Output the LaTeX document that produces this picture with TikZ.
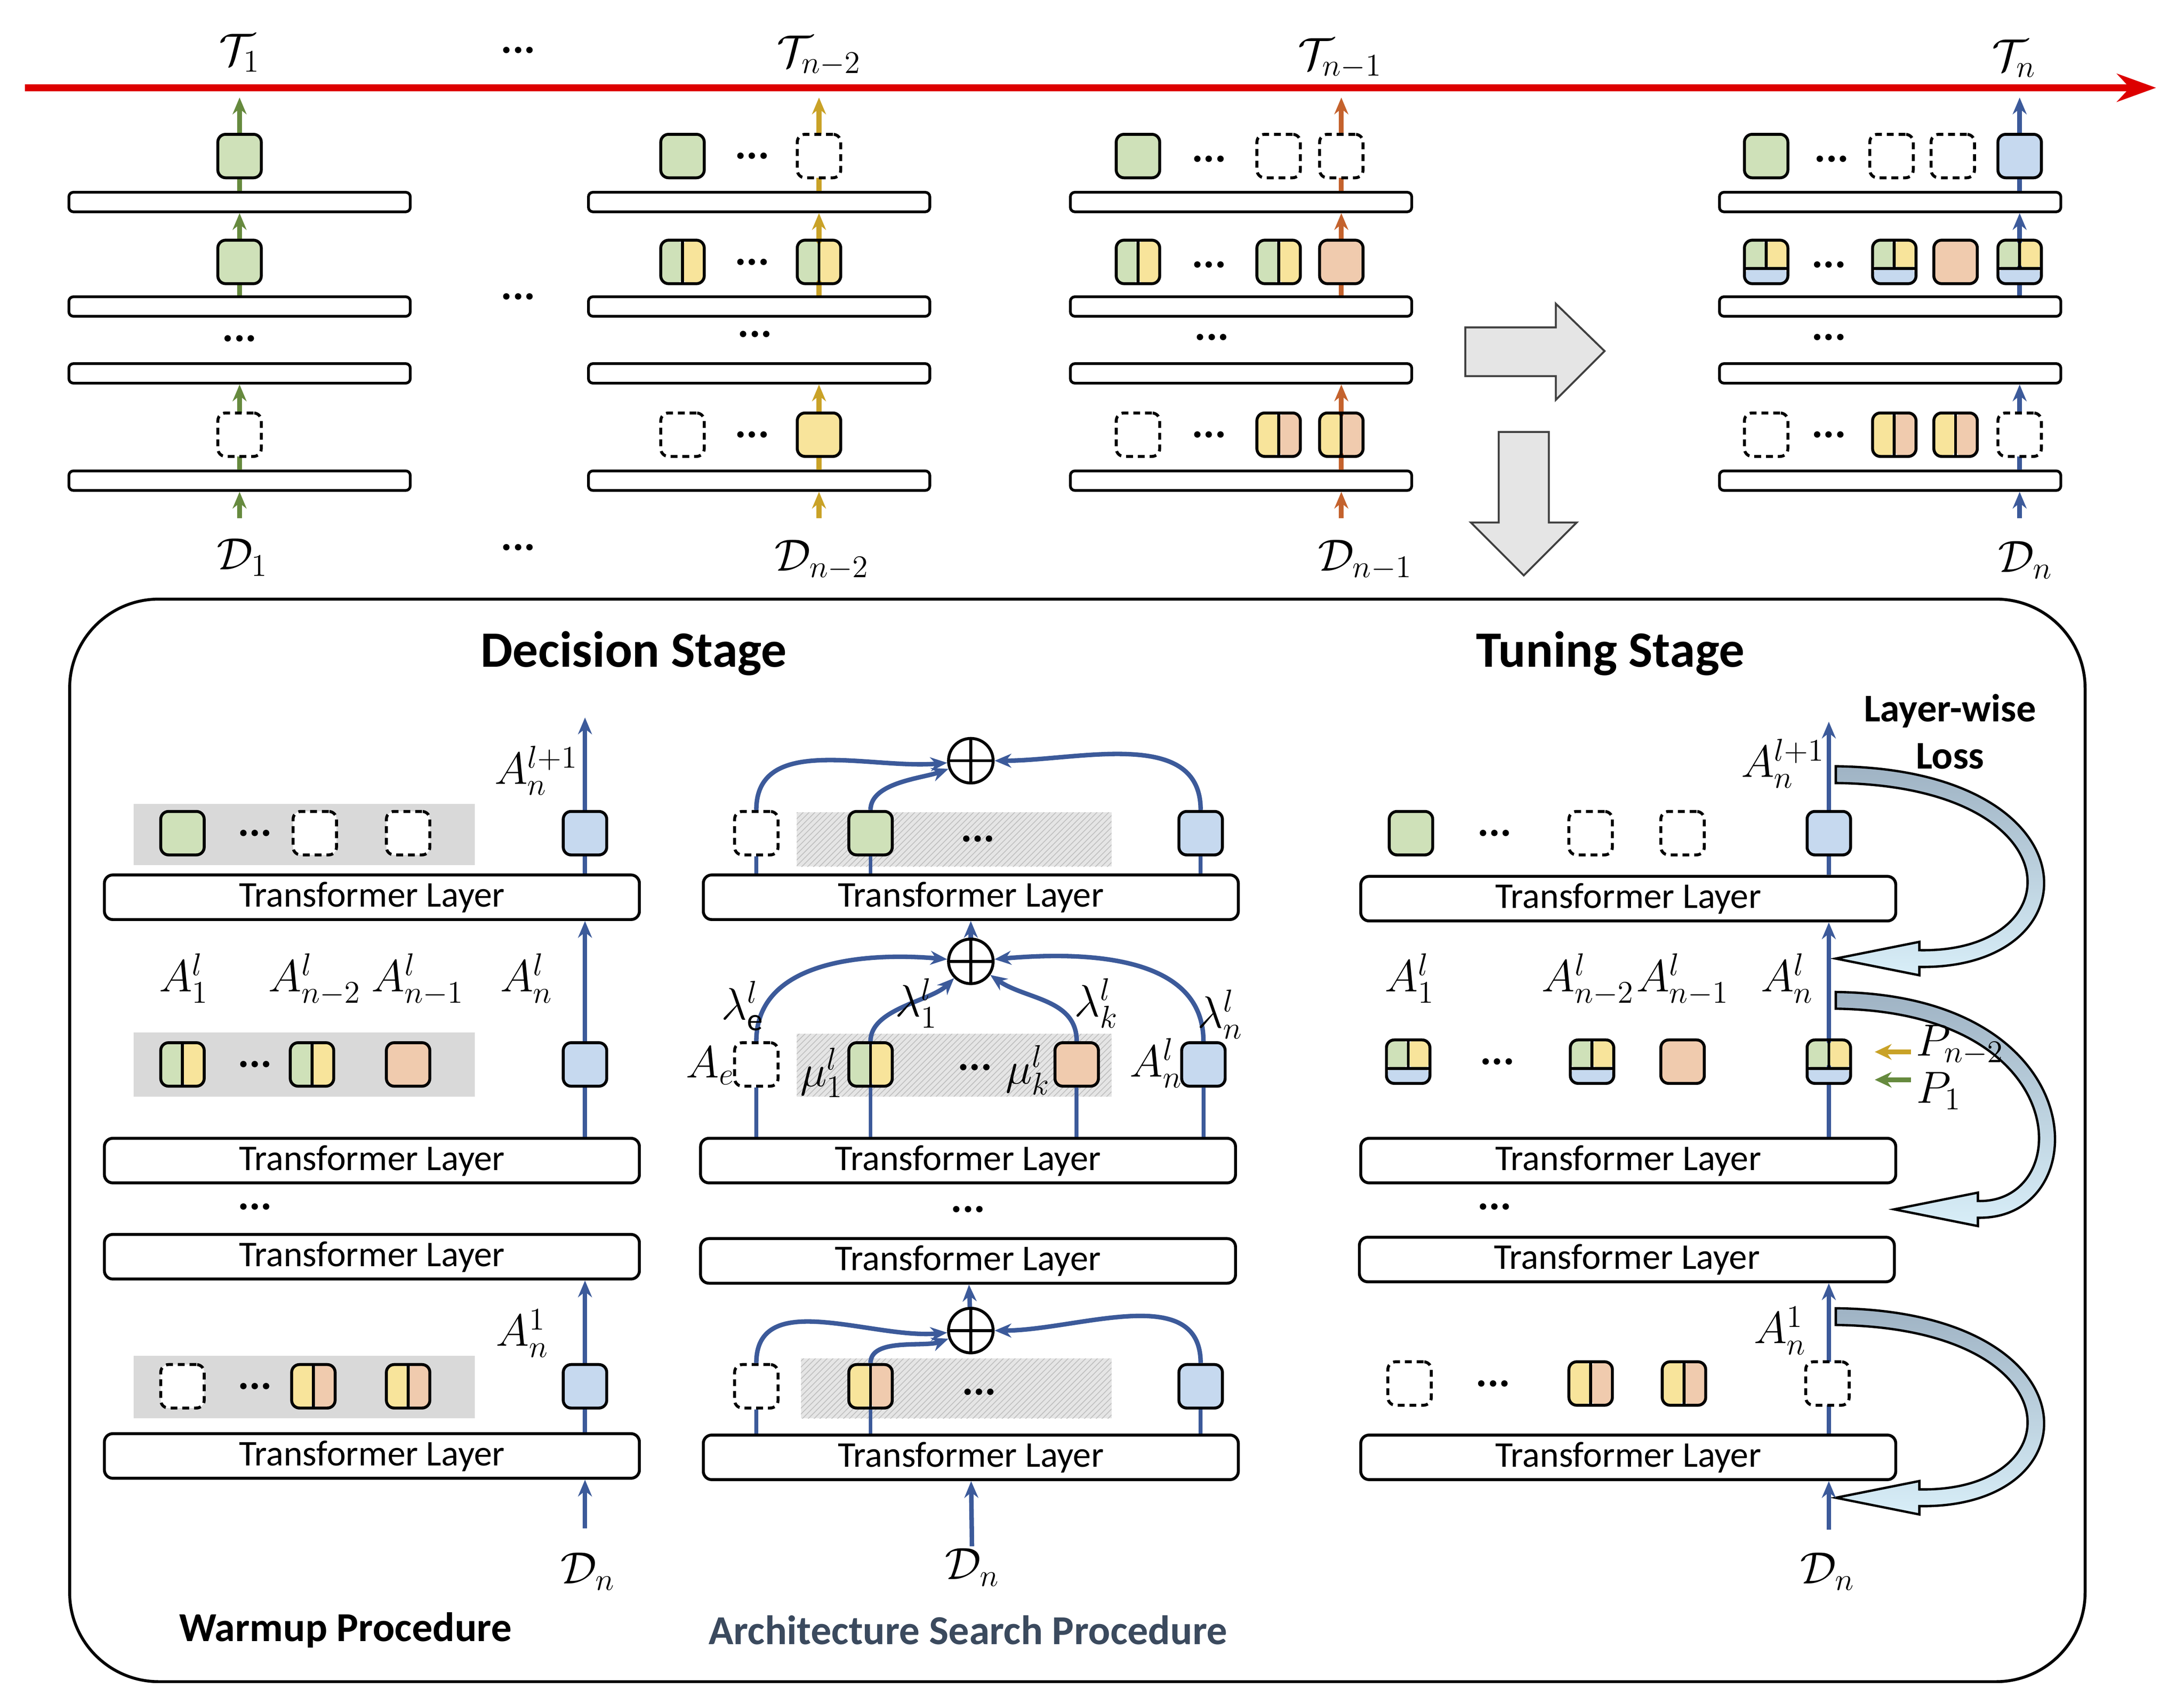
\RequirePackage{fix-cm}
\documentclass[tikz,border=0pt]{standalone}
\usepackage{fontspec}
\setmainfont{Carlito}
\usetikzlibrary{arrows.meta,patterns}
\definecolor{cG}{HTML}{CFE1B9}
\definecolor{cY}{HTML}{F8E49B}
\definecolor{cS}{HTML}{F0CBAE}
\definecolor{cB}{HTML}{C6D9EF}
\definecolor{cBlue}{HTML}{3C5A9A}
\definecolor{cGold}{HTML}{C9A227}
\definecolor{cOr}{HTML}{C4622D}
\definecolor{cGr}{HTML}{668A3E}
\definecolor{cRed}{HTML}{DD0000}
\definecolor{rA}{HTML}{9FB3C4}
\definecolor{rB}{HTML}{D8EEF8}
\definecolor{cTxt}{HTML}{3B4A5E}
\newcommand\lossarrow[3]{%
\draw[top color=rA,bottom color=rB,draw=black,line width=1.2pt]
 (1318,#1-6) .. controls (1506,#1-4) and (1506,#2+8) .. (#3+60,#2+6)
 -- (#3+60,#2+12) -- (#3,#2) -- (#3+60,#2-12) -- (#3+60,#2-6)
 .. controls (1490,#2-4) and (1490,#1+8) .. (1318,#1+6) -- cycle;}
\tikzset{
 mod/.style={draw,line width=1.5pt,rounded corners=0.14cm,minimum size=0.78cm,inner sep=0pt},
 G/.style={mod,fill=cG}, Y/.style={mod,fill=cY}, S/.style={mod,fill=cS}, B/.style={mod,fill=cB},
 D/.style={mod,fill=white,dash pattern=on 3.5pt off 2.5pt},
 GY/.style={mod,path picture={
   \fill[cG] (path picture bounding box.south west) rectangle (path picture bounding box.north);
   \fill[cY] (path picture bounding box.south) rectangle (path picture bounding box.north east);
   \draw[line width=1.5pt] (path picture bounding box.south) -- (path picture bounding box.north);}},
 YS/.style={mod,path picture={
   \fill[cY] (path picture bounding box.south west) rectangle (path picture bounding box.north);
   \fill[cS] (path picture bounding box.south) rectangle (path picture bounding box.north east);
   \draw[line width=1.5pt] (path picture bounding box.south) -- (path picture bounding box.north);}},
 GYB/.style={mod,path picture={
   \fill[cB] (path picture bounding box.south west) rectangle ([yshift=0.27cm]path picture bounding box.south east);
   \fill[cG] ([yshift=0.27cm]path picture bounding box.south west) rectangle (path picture bounding box.north);
   \fill[cY] ([yshift=0.27cm]path picture bounding box.south) rectangle (path picture bounding box.north east);
   \draw[line width=1.5pt] (path picture bounding box.north) -- ([yshift=0.27cm]path picture bounding box.south);
   \draw[line width=1.5pt] ([yshift=0.27cm]path picture bounding box.south west) -- ([yshift=0.27cm]path picture bounding box.south east);}},
 bar/.style={draw,line width=1.4pt,rounded corners=0.08cm,minimum width=6.125cm,minimum height=0.35cm,inner sep=0pt,fill=white},
 layer/.style={draw,line width=1.5pt,rounded corners=0.15cm,minimum width=9.6cm,minimum height=0.8cm,inner sep=0pt,fill=white,font=\fontsize{18.5}{22}\selectfont},
 ml/.style={font=\fontsize{23}{27}\selectfont,inner sep=1pt},
 dots/.style={font=\fontsize{22}{24}\selectfont\bfseries,inner sep=1pt},
 title/.style={font=\fontsize{21}{24}\selectfont\bfseries},
 stitle/.style={font=\fontsize{26}{30}\selectfont\bfseries},
 arr/.style={line width=2.5pt,#1,-{Stealth[length=0.3cm,width=0.25cm]}},
 ln/.style={line width=2pt,cBlue},
 carr/.style={line width=2.3pt,cBlue,-{Stealth[length=0.3cm,width=0.25cm]}},
 bigarr/.style={fill=black!10,draw=black!75,line width=1pt,line join=miter},
 op/.style={draw,circle,line width=1.5pt,minimum size=0.8cm,inner sep=0pt,fill=white,path picture={
   \draw[line width=1.5pt] (path picture bounding box.north) -- (path picture bounding box.south);
   \draw[line width=1.5pt] (path picture bounding box.west) -- (path picture bounding box.east);}},
}
\begin{document}
\begin{tikzpicture}[x=0.025cm,y=-0.025cm]
\useasboundingbox (0,0) rectangle (1568,1223);
% timeline
\coordinate (rl) at (18,63); \coordinate (rr) at (1548,63);
\draw[line width=3.6pt,cRed,-{Stealth[length=0.7cm,width=0.5cm]}] (rl) -- (rr);
\node[ml] (t1) at (172,38) {$\mathcal{T}_1$};
\node[dots] (tdots) at (372,36) {...};
\node[ml] (t2) at (588,40) {$\mathcal{T}_{n-2}$};
\node[ml] (t3) at (962,42) {$\mathcal{T}_{n-1}$};
\node[ml] (t4) at (1446,42) {$\mathcal{T}_n$};
\node[dots] (mdots) at (372,213) {...};
\node[dots] (bdots) at (372,393) {...};
\node[ml] (d1) at (174,400) {$\mathcal{D}_1$};
\node[ml] (d2) at (590,402) {$\mathcal{D}_{n-2}$};
\node[ml] (d3) at (980,402) {$\mathcal{D}_{n-1}$};
\node[ml] (d4) at (1454,402) {$\mathcal{D}_n$};
\foreach \k/\cx in {1/172,2/545,3/891,4/1357}{
  \foreach \j/\y in {1/145,2/220,3/268,4/345}{\node[bar] (b\k\j) at (\cx,\y) {};}}
\foreach \k/\x/\c in {1/172/cGr,2/588/cGold,3/963/cOr,4/1450/cBlue}{
  \coordinate (a\k) at (\x,372); \coordinate (at\k) at (\x,70);
  \draw[arr=\c] (a\k) -- (a\k |- b\k4.south);
  \draw[arr=\c] (a\k |- b\k4.north) -- (a\k |- b\k3.south);
  \draw[arr=\c] (a\k |- b\k2.north) -- (a\k |- b\k1.south);
  \draw[arr=\c] (a\k |- b\k1.north) -- (at\k);}
\node[dots] (c1d) at (172,243) {...};
\node[dots] (c2d) at (542,240) {...};
\node[dots] (c3d) at (870,242) {...};
\node[dots] (c4d) at (1313,242) {...};
% col1
\node[G] (p11) at (172,112) {}; \node[G] (p12) at (172,188) {}; \node[D] (p14) at (172,312) {};
% col2
\node[G] (q11) at (490,112) {}; \node[dots] at (540,112) {...}; \node[D] (q12) at (588,112) {};
\node[GY] (q21) at (490,188) {}; \node[dots] at (540,188) {...}; \node[GY] (q22) at (588,188) {};
\node[D] (q41) at (490,312) {}; \node[dots] at (540,312) {...}; \node[Y] (q42) at (588,312) {};
% col3
\node[G] (r11) at (817,112) {}; \node[dots] at (868,114) {...}; \node[D] (r12) at (918,112) {}; \node[D] (r13) at (963,112) {};
\node[GY] (r21) at (817,188) {}; \node[dots] at (868,190) {...}; \node[GY] (r22) at (918,188) {}; \node[S] (r23) at (963,188) {};
\node[D] (r41) at (817,312) {}; \node[dots] at (868,312) {...}; \node[YS] (r42) at (918,312) {}; \node[YS] (r43) at (963,312) {};
% col4
\node[G] (s11) at (1268,112) {}; \node[dots] at (1315,114) {...}; \node[D] (s12) at (1358,112) {}; \node[D] (s13) at (1402,112) {}; \node[B] (s14) at (1450,112) {};
\node[GYB] (s21) at (1268,188) {}; \node[dots] at (1313,190) {...}; \node[GYB] (s22) at (1360,188) {}; \node[S] (s23) at (1404,188) {}; \node[GYB] (s24) at (1450,188) {};
\node[D] (s41) at (1268,312) {}; \node[dots] at (1313,312) {...}; \node[YS] (s42) at (1360,312) {}; \node[YS] (s43) at (1404,312) {}; \node[D] (s44) at (1450,312) {};
% big arrows
\draw[bigarr] (1052,235) -- (1117,235) -- (1117,218) -- (1152,252) -- (1117,287) -- (1117,270) -- (1052,270) -- cycle;
\draw[bigarr] (1076,310) -- (1112,310) -- (1112,375) -- (1132,375) -- (1094,413) -- (1056,375) -- (1076,375) -- cycle;
% lower frame
\draw[line width=1.5pt,rounded corners=1.6cm] (50,430) rectangle (1497,1207);
\node[stitle] (ds) at (455,469) {Decision Stage};
\node[stitle] (ts) at (1156,469) {Tuning Stage};
% ---------- warmup
\fill[black!15] (96,577) rectangle (341,621);
\fill[black!15] (96,741) rectangle (341,787);
\fill[black!15] (96,973) rectangle (341,1018);
\node[layer] (wl1) at (267,644) {Transformer Layer};
\node[layer] (wl2) at (267,833) {Transformer Layer};
\node[layer] (wl3) at (267,902) {Transformer Layer};
\node[layer] (wl4) at (267,1045) {Transformer Layer};
\node[dots] (wdots) at (183,866) {...};
\coordinate (wd) at (420,1097); \coordinate (wt) at (420,515);
\draw[carr] (wd) -- (wd |- wl4.south);
\draw[carr] (wd |- wl4.north) -- (wd |- wl3.south);
\draw[carr] (wd |- wl2.north) -- (wd |- wl1.south);
\draw[carr] (wd |- wl1.north) -- (wt);
\node[G] (w11) at (131,598) {}; \node[dots] at (183,598) {...}; \node[D] (w12) at (226,598) {}; \node[D] (w13) at (293,598) {}; \node[B] (w14) at (420,598) {};
\node[GY] (w21) at (131,764) {}; \node[dots] at (183,764) {...}; \node[GY] (w22) at (224,764) {}; \node[S] (w23) at (293,764) {}; \node[B] (w24) at (420,764) {};
\node[D] (w31) at (131,995) {}; \node[dots] at (183,995) {...}; \node[YS] (w32) at (225,995) {}; \node[YS] (w33) at (293,995) {}; \node[B] (w34) at (420,995) {};
\node[ml] at (385,553) {$A_n^{l+1}$};
\node[ml] at (132,702) {$A_1^l$};
\node[ml] at (226,703) {$A_{n-2}^l$};
\node[ml] at (300,703) {$A_{n-1}^l$};
\node[ml] at (378,702) {$A_n^l$};
\node[ml] at (375,957) {$A_n^1$};
\node[ml] (wdn) at (422,1128) {$\mathcal{D}_n$};
\node[title] (wp) at (248,1170) {Warmup Procedure};
% ---------- architecture search
\fill[black!10] (572,583) rectangle (798,622);
\fill[pattern=north east lines,pattern color=black!25] (572,583) rectangle (798,622);
\fill[black!10] (572,742) rectangle (798,787);
\fill[pattern=north east lines,pattern color=black!25] (572,742) rectangle (798,787);
\fill[black!10] (575,975) rectangle (798,1018);
\fill[pattern=north east lines,pattern color=black!25] (575,975) rectangle (798,1018);
\node[layer] (ml1) at (697,644) {Transformer Layer};
\node[layer] (ml2) at (695,833) {Transformer Layer};
\node[layer] (ml3) at (695,905) {Transformer Layer};
\node[layer] (ml4) at (697,1046) {Transformer Layer};
\node[dots] (mdd) at (695,868) {...};
\node[D] (m11) at (543,598) {}; \node[G] (m12) at (625,598) {}; \node[dots] at (702,602) {...}; \node[B] (m13) at (862,598) {};
\node[D] (m21) at (543,764) {}; \node[GY] (m22) at (625,764) {}; \node[dots] at (700,766) {...}; \node[S] (m23) at (773,764) {}; \node[B] (m24) at (864,764) {};
\node[D] (m31) at (543,995) {}; \node[YS] (m32) at (625,995) {}; \node[dots] at (703,999) {...}; \node[B] (m33) at (862,995) {};
\node[op] (o1) at (697,546) {};
\node[op] (o2) at (697,690) {};
\node[op] (o3) at (697,955) {};
\foreach \m in {m11,m12,m13}{\draw[ln] (\m.south) -- (\m.south |- ml1.north);}
\foreach \m in {m21,m22,m23,m24}{\draw[ln] (\m.south) -- (\m.south |- ml2.north);}
\foreach \m in {m31,m32,m33}{\draw[ln] (\m.south) -- (\m.south |- ml4.north);}
\draw[carr] (m11) to[out=90,in=185] (o1);
\draw[carr] (m12.north) to[out=90,in=200,looseness=0.8] (o1);
\draw[carr] (m13) to[out=90,in=0] (o1);
\draw[carr] (m21) to[out=90,in=175] (o2);
\draw[carr] (m22.north) to[out=90,in=225,looseness=0.8] (o2);
\draw[carr] (m23) to[out=90,in=-35] (o2);
\draw[carr] (m24) to[out=90,in=5] (o2);
\draw[carr] (m31) to[out=90,in=185] (o3);
\draw[carr] (m32.north) to[out=90,in=200,looseness=0.8] (o3);
\draw[carr] (m33) to[out=90,in=0] (o3);
\draw[carr] (o2) -- (ml1);
\draw[carr] (o3) -- (ml3);
\node[ml] (mdn) at (698,1125) {$\mathcal{D}_n$};
\draw[carr] (mdn) -- (ml4);
\node[ml] at (533,722) {$\lambda_{\mathrm{e}}^l$};
\node[ml] at (510,765) {$A_e$};
\node[ml] at (590,770) {$\mu_1^l$};
\node[ml] at (658,720) {$\lambda_1^l$};
\node[ml] at (738,768) {$\mu_k^l$};
\node[ml] at (787,720) {$\lambda_k^l$};
\node[ml] at (830,763) {$A_n^l$};
\node[ml] at (876,728) {$\lambda_n^l$};
\node[title,text=cTxt] (asp) at (695,1170) {Architecture Search Procedure};
% ---------- tuning
\lossarrow{556}{688}{1318}
\lossarrow{718}{868}{1360}
\lossarrow{945}{1075}{1318}
\node[layer] (tl1) at (1169,645) {Transformer Layer};
\node[layer] (tl2) at (1169,833) {Transformer Layer};
\node[layer] (tl3) at (1168,904) {Transformer Layer};
\node[layer] (tl4) at (1169,1046) {Transformer Layer};
\node[dots] (tdd) at (1073,866) {...};
\coordinate (td) at (1313,1098); \coordinate (tt) at (1313,518);
\draw[carr] (td) -- (td |- tl4.south);
\draw[carr] (td |- tl4.north) -- (td |- tl3.south);
\draw[carr] (td |- tl2.north) -- (td |- tl1.south);
\draw[carr] (td |- tl1.north) -- (tt);
\node[G] (u11) at (1013,598) {}; \node[dots] at (1073,598) {...}; \node[D] (u12) at (1142,598) {}; \node[D] (u13) at (1208,598) {}; \node[B] (u14) at (1313,598) {};
\node[GYB] (u21) at (1011,762) {}; \node[dots] at (1075,762) {...}; \node[GYB] (u22) at (1143,762) {}; \node[S] (u23) at (1208,762) {}; \node[GYB] (u24) at (1313,762) {};
\node[D] (u31) at (1012,993) {}; \node[dots] at (1072,993) {...}; \node[YS] (u32) at (1142,993) {}; \node[YS] (u33) at (1209,993) {}; \node[D] (u34) at (1312,993) {};
\node[ml] at (1280,548) {$A_n^{l+1}$};
\node[ml] at (1012,702) {$A_1^l$};
\node[ml] at (1140,703) {$A_{n-2}^l$};
\node[ml] at (1208,703) {$A_{n-1}^l$};
\node[ml] at (1283,702) {$A_n^l$};
\node[ml] at (1278,955) {$A_n^1$};
\node[ml] (tdn) at (1312,1128) {$\mathcal{D}_n$};
\node[ml] (pn2) at (1407,750) {$P_{n-2}$};
\node[ml] (p1) at (1392,783) {$P_1$};
\coordinate (pa) at (1372,755); \coordinate (pb) at (1346,755);
\coordinate (pc) at (1372,775); \coordinate (pd) at (1346,775);
\draw[line width=2.5pt,cGold,-{Stealth[length=0.3cm,width=0.28cm]}] (pa) -- (pb);
\draw[line width=2.5pt,cGr,-{Stealth[length=0.3cm,width=0.28cm]}] (pc) -- (pd);
\node[title,align=center,font=\fontsize{20}{24}\selectfont\bfseries] (lwl) at (1400,525) {Layer-wise\\Loss};
\end{tikzpicture}
\end{document}
